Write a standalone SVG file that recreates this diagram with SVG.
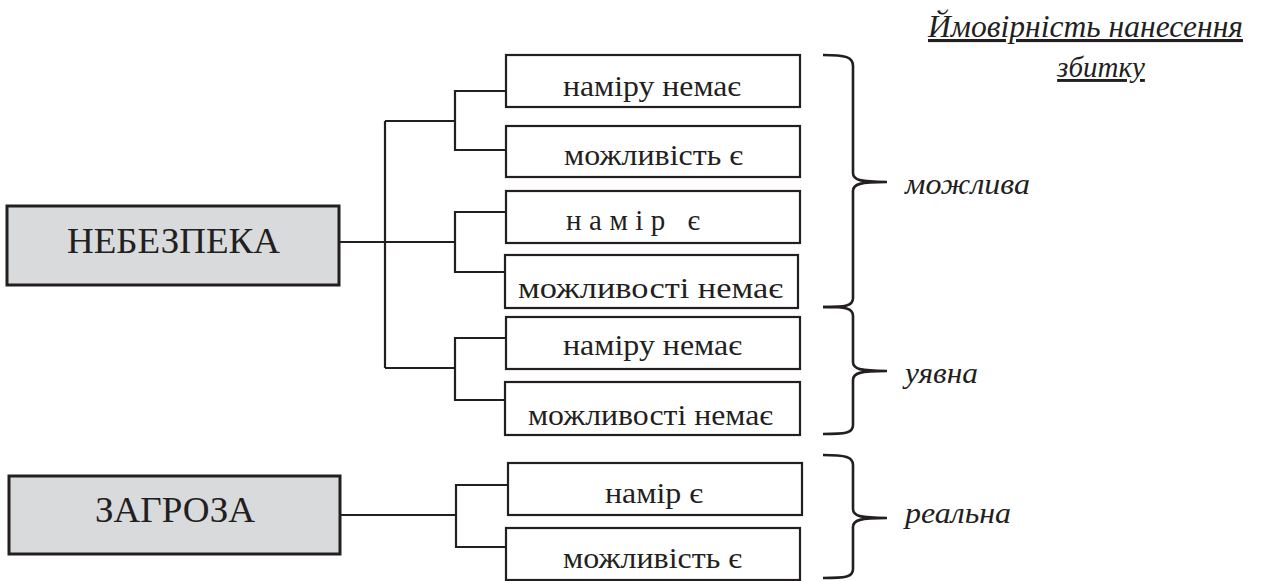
<svg xmlns="http://www.w3.org/2000/svg" width="1262" height="581" viewBox="0 0 1262 581">
<style>
.main{fill:#d9dadc;stroke:#231f20;stroke-width:3}
.box{fill:#ffffff;stroke:#231f20;stroke-width:2.2}
.big{font-size:36px;fill:#231f20}
.t{font-size:29px;fill:#231f20}
.it{font-style:italic;font-size:29px;fill:#231f20}
.conn{fill:none;stroke:#231f20;stroke-width:2.2}
.brace{fill:none;stroke:#231f20;stroke-width:2.6;stroke-linejoin:round}
</style>
<rect width="1262" height="581" fill="#ffffff"/>

<g id="connectors">
<path class="conn" d="M339,242 H455 M385,121 V368 M385,121 H455 M385,368 H455"/>
<path class="conn" d="M506,91 H455 V150 H506"/>
<path class="conn" d="M506,212 H455 V272 H506"/>
<path class="conn" d="M506,338 H455 V400 H506"/>
<path class="conn" d="M340,515 H456 M508,485 H456 V547 H506"/>
</g>

<g font-family="Liberation Serif, Tinos, Times New Roman, DejaVu Serif, Noto Serif, serif">
<g id="n-nebezpeka">
<rect class="main" x="7" y="206" width="332" height="79"/>
<text class="big" x="67" y="253" textLength="213" lengthAdjust="spacingAndGlyphs">НЕБЕЗПЕКА</text>
</g>
<g id="n-zagroza">
<rect class="main" x="9" y="476" width="331" height="78"/>
<text class="big" x="95" y="522" textLength="160" lengthAdjust="spacingAndGlyphs">ЗАГРОЗА</text>
</g>

<g id="b1"><rect class="box" x="506" y="55" width="294" height="52"/><text class="t" x="563" y="96" textLength="178" lengthAdjust="spacingAndGlyphs">наміру немає</text></g>
<g id="b2"><rect class="box" x="506" y="126" width="294" height="51"/><text class="t" x="564" y="165" textLength="179" lengthAdjust="spacingAndGlyphs">можливість є</text></g>
<g id="b3"><rect class="box" x="506" y="191" width="294" height="52"/><text class="t" x="566" y="230" textLength="134" lengthAdjust="spacing">намір є</text></g>
<g id="b4"><rect class="box" x="505" y="255" width="293" height="53"/><text class="t" x="518" y="298" textLength="265" lengthAdjust="spacingAndGlyphs">можливості немає</text></g>
<g id="b5"><rect class="box" x="506" y="317" width="294" height="52"/><text class="t" x="563" y="355" textLength="179" lengthAdjust="spacingAndGlyphs">наміру немає</text></g>
<g id="b6"><rect class="box" x="505" y="382" width="295" height="53"/><text class="t" x="528" y="425" textLength="245" lengthAdjust="spacingAndGlyphs">можливості немає</text></g>
<g id="b7"><rect class="box" x="508" y="463" width="294" height="52"/><text class="t" x="605" y="503" textLength="98" lengthAdjust="spacingAndGlyphs">намір є</text></g>
<g id="b8"><rect class="box" x="506" y="528" width="294" height="52"/><text class="t" x="563" y="568" textLength="179" lengthAdjust="spacingAndGlyphs">можливість є</text></g>

<g id="braces">
<path class="brace" d="M823,55 C846,55 853,57 853,66 L853,173 C853,180 860,182 887,182 M887,182 C860,182 853,184 853,191 L853,298 C853,306 846,307 823,307"/>
<path class="brace" d="M823,307 C846,307 853,308 853,316 L853,362 C853,369 860,371 887,371 M887,371 C860,371 853,373 853,380 L853,425 C853,433 846,434 823,434"/>
<path class="brace" d="M823,455 C846,455 853,457 853,465 L853,509 C853,516 860,518 887,518 M887,518 C860,518 853,520 853,527 L853,569 C853,577 846,578 823,578"/>
</g>

<g id="labels">
<text class="it" x="905" y="194" textLength="125" lengthAdjust="spacingAndGlyphs">можлива</text>
<text class="it" x="905" y="383" textLength="73" lengthAdjust="spacingAndGlyphs">уявна</text>
<text class="it" x="905" y="523" textLength="106" lengthAdjust="spacingAndGlyphs">реальна</text>
</g>

<g id="title">
<text class="it" x="928" y="37" style="font-size:31px" text-decoration="underline" textLength="315" lengthAdjust="spacingAndGlyphs">Ймовірність нанесення</text>
<text class="it" x="1101" y="77" style="font-size:29px" text-anchor="middle" text-decoration="underline">збитку</text>
</g>
</g>
</svg>
